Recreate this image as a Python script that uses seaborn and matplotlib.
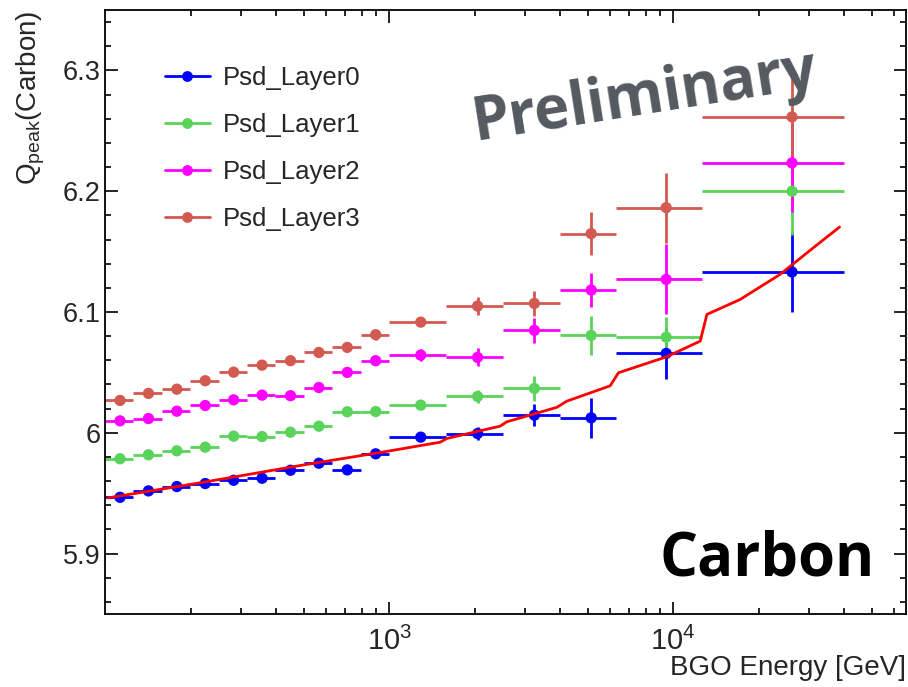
import numpy as np
import pandas as pd
import matplotlib
matplotlib.use("Agg")
import matplotlib.pyplot as plt
import seaborn as sns
from matplotlib.lines import Line2D
from matplotlib.ticker import FixedLocator, MultipleLocator, FuncFormatter, NullFormatter

# ---------------- data ----------------
bin_edges = [100, 125.9, 158.5, 199.5, 251.2, 316.2, 398.1, 501.2, 631.0, 794.3,
             1000, 1584.9, 2511.9, 3981.1, 6309.6, 12589.3, 39810.7]

layer_names = ["Psd_Layer0", "Psd_Layer1", "Psd_Layer2", "Psd_Layer3"]

q_layer0 = [5.9466, 5.9519, 5.9555, 5.9580, 5.9607, 5.9624, 5.9690, 5.9748, 5.9693, 5.9826,
            5.9964, 5.9994, 6.0146, 6.0124, 6.0657, 6.1331]
q_layer1 = [5.9785, 5.9818, 5.9851, 5.9881, 5.9972, 5.9969, 6.0005, 6.0055, 6.0174, 6.0176,
            6.0229, 6.0301, 6.0367, 6.0806, 6.0792, 6.2000]
q_layer2 = [6.0099, 6.0118, 6.0179, 6.0226, 6.0273, 6.0312, 6.0307, 6.0375, 6.0500, 6.0597,
            6.0643, 6.0624, 6.0848, 6.1182, 6.1270, 6.2234]
q_layer3 = [6.0268, 6.0326, 6.0361, 6.0431, 6.0502, 6.0560, 6.0597, 6.0665, 6.0707, 6.0812,
            6.0916, 6.1049, 6.1071, 6.1649, 6.1864, 6.2615]

err_layer0 = [0.0015, 0.0015, 0.0015, 0.0015, 0.0015, 0.0018, 0.0018, 0.0020, 0.0020, 0.0025,
              0.0030, 0.0055, 0.0090, 0.0167, 0.0210, 0.0330]
err_layer1 = [0.0015, 0.0015, 0.0015, 0.0015, 0.0015, 0.0015, 0.0015, 0.0015, 0.0020, 0.0020,
              0.0030, 0.0055, 0.0100, 0.0160, 0.0170, 0.0360]
err_layer2 = [0.0015, 0.0015, 0.0015, 0.0015, 0.0015, 0.0015, 0.0015, 0.0020, 0.0025, 0.0035,
              0.0050, 0.0075, 0.0106, 0.0140, 0.0290, 0.0410]
err_layer3 = [0.0015, 0.0015, 0.0015, 0.0015, 0.0015, 0.0015, 0.0015, 0.0020, 0.0025, 0.0040,
              0.0030, 0.0075, 0.0106, 0.0180, 0.0290, 0.0320]

# fitted curve (traced)
curve_e = [102.5, 216, 486, 992, 1512, 1597, 2459, 2597, 3895, 4224, 6001, 6418,
           9502, 12449, 13146, 17214, 23815, 31189, 38516]
curve_q = [5.9461, 5.9586, 5.9729, 5.9848, 5.9922, 5.9953, 6.0055, 6.0091, 6.0211, 6.0262,
           6.0389, 6.0497, 6.0630, 6.0759, 6.0980, 6.1104, 6.1312, 6.1533, 6.1703]

colors = ["#0000ff", "#5ad35a", "#ff00ff", "#d25a50"]

# ---------------- style ----------------
sns.set_theme(style="ticks")
plt.rcParams["font.family"] = ["Liberation Sans", "DejaVu Sans"]
plt.rcParams["mathtext.fontset"] = "custom"
plt.rcParams["mathtext.rm"] = "Liberation Sans"
plt.rcParams["mathtext.it"] = "Liberation Sans:italic"
plt.rcParams["mathtext.default"] = "regular"

W, H, DPI = 908, 687, 100
fig = plt.figure(figsize=(W / DPI, H / DPI), dpi=DPI)
ax = fig.add_axes([105 / W, 1 - 614 / H, (906 - 105) / W, (614 - 10) / H])

edges = np.array(bin_edges)
lo, hi = edges[:-1], edges[1:]
xc = (lo + hi) / 2.0

qs = [q_layer0, q_layer1, q_layer2, q_layer3]
errs = [err_layer0, err_layer1, err_layer2, err_layer3]

rows = []
for name, q, e in zip(layer_names, qs, errs):
    for i in range(len(q)):
        rows.append(dict(layer=name, E=xc[i], lo=lo[i], hi=hi[i], Q=q[i], err=e[i]))
df = pd.DataFrame(rows)

for name, col in zip(layer_names, colors):
    d = df[df.layer == name]
    ax.errorbar(d.E, d.Q, xerr=[d.E - d.lo, d.hi - d.E], yerr=d.err, fmt="none",
                ecolor=col, elinewidth=2.0, capsize=0, zorder=2)
    sns.scatterplot(data=d, x="E", y="Q", color=col, s=66, edgecolor="none",
                    ax=ax, zorder=3, legend=False)

curve = pd.DataFrame(dict(E=curve_e, Q=curve_q))
sns.lineplot(data=curve, x="E", y="Q", sort=False, color="#ff0000", lw=2.0,
             ax=ax, zorder=4, legend=False)

ax.set_xscale("log")
ax.set_xlim(100, 66000)
ax.set_ylim(5.85, 6.35)

ax.xaxis.set_major_locator(FixedLocator([1e3, 1e4]))
ax.xaxis.set_major_formatter(FuncFormatter(lambda v, p: r"$10^{%d}$" % round(np.log10(v))))
minors = [m * 10 ** k for k in (2, 3, 4) for m in range(2, 10)]
ax.xaxis.set_minor_locator(FixedLocator([m for m in minors if m < 66000]))
ax.xaxis.set_minor_formatter(NullFormatter())

ax.yaxis.set_major_locator(MultipleLocator(0.1))
ax.yaxis.set_minor_locator(MultipleLocator(0.02))
ax.yaxis.set_major_formatter(FuncFormatter(lambda v, p: "%g" % round(v, 3)))

ax.tick_params(which="both", direction="in", top=True, right=True, width=1.2, color="black")
ax.tick_params(which="major", length=9)
ax.tick_params(which="minor", length=4.5)
ax.tick_params(axis="y", labelsize=19.5, pad=3)
ax.tick_params(axis="x", labelsize=21, pad=9)
for sp in ax.spines.values():
    sp.set_linewidth(1.3)
    sp.set_color("black")

ax.set_xlabel("BGO Energy [GeV]", fontsize=20, loc="right")
ax.xaxis.set_label_coords(1.0, -0.068)
ax.set_ylabel(r"Q$_{\mathrm{peak}}$(Carbon)", fontsize=20, loc="top")
ax.yaxis.set_label_coords(-0.072, 1.0)

handles = [Line2D([0], [0], color=c, lw=2.0, marker="o", markersize=7.8, markeredgewidth=0)
           for c in colors]
ax.legend(handles, layer_names, loc="upper left", bbox_to_anchor=(165 / W, 1 - 66 / H),
          bbox_transform=fig.transFigure, frameon=False, fontsize=18.5, handlelength=1.75,
          handletextpad=0.5, labelspacing=0.9, borderpad=0, borderaxespad=0)

fig.text(645 / W, 1 - 98 / H, "Preliminary", fontsize=43, fontweight="bold",
         family=["Open Sans", "DejaVu Sans"], color="#555a61", rotation=9,
         ha="center", va="center", rotation_mode="anchor")
fig.text(875 / W, 1 - 575 / H, "Carbon", fontsize=43, fontweight="bold",
         family=["Open Sans", "DejaVu Sans"], color="black", ha="right", va="baseline")

fig.savefig("out.png", dpi=DPI)
